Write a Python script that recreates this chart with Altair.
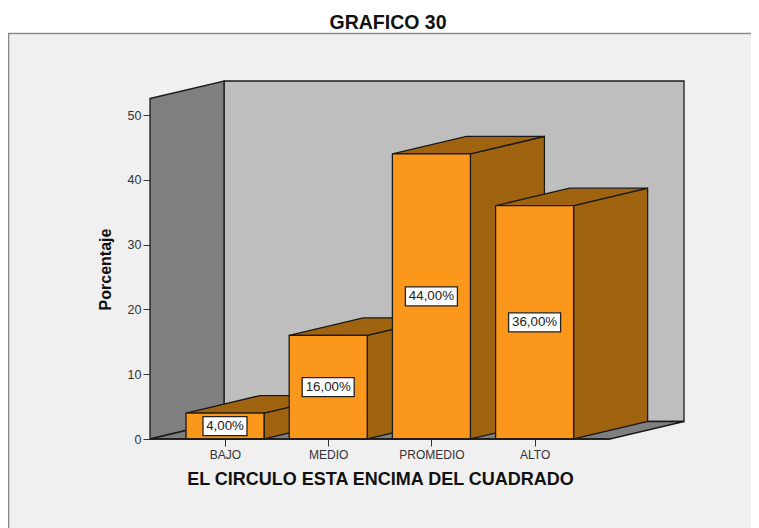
import altair as alt
import pandas as pd

categories = ["BAJO", "MEDIO", "PROMEDIO", "ALTO"]
percents = [4.0, 16.0, 44.0, 36.0]
labels = ["4,00%", "16,00%", "44,00%", "36,00%"]
label_halfwidths = [22, 26, 26, 26]
y_ticks = [0, 10, 20, 30, 40, 50]

ORANGE = "#FB981C"
BROWN = "#A06410"
WALL_BACK = "#BEBEBE"
WALL_SIDE = "#7F7F7F"
FRAME_FILL = "#F0F0F0"
EDGE = "#1A1A1A"

PX_STEP = 103.2
PX_PER_PCT = 6.48
BAR_HALF = 39 / PX_STEP
DX = 74 / PX_STEP
DY = 17.5 / PX_PER_PCT
X_MIN = -75 / PX_STEP
X_MAX = X_MIN + 534 / PX_STEP
Y_TOP = 358 / PX_PER_PCT
WALL_TOP = Y_TOP - DY
FLOOR_RIGHT = X_MAX - DX

x_scale = alt.Scale(domain=[X_MIN, X_MAX], nice=False, zero=False)
y_scale = alt.Scale(domain=[0, Y_TOP], nice=False, zero=False)
XB = alt.X("x:Q", scale=x_scale, title="EL CIRCULO ESTA ENCIMA DEL CUADRADO",
           axis=alt.Axis(values=list(range(len(categories))),
                         labelExpr="['BAJO','MEDIO','PROMEDIO','ALTO'][datum.value]",
                         grid=False, domain=False, tickColor="#333333", tickSize=7, tickWidth=1,
                         labelColor="#333333", labelFont="Liberation Sans", labelFontSize=12,
                         labelPadding=3, labelFlush=False, labelOverlap=False,
                         titleFont="Liberation Sans", titleFontSize=18,
                         titleFontWeight="bold", titleColor="#111111", titlePadding=10,
                         titleX=230, zindex=1))
YB = alt.Y("y:Q", scale=y_scale, title="Porcentaje",
           axis=alt.Axis(values=y_ticks, grid=False, domain=False, tickColor="#333333",
                         tickSize=7, tickWidth=1, labelColor="#333333",
                         labelFont="Liberation Sans", labelFontSize=12.5, labelPadding=2,
                         titleFont="Liberation Sans", titleFontSize=16, titleFontWeight="bold",
                         titleColor="#111111", titlePadding=14, titleY=188, zindex=1))


def rect(x0, x1, y0, y1, fill, stroke=None, sw=1.3):
    d = pd.DataFrame({"x": [x0], "x2": [x1], "y": [y0], "y2": [y1]})
    kw = dict(fill=fill, clip=False)
    if stroke:
        kw.update(stroke=stroke, strokeWidth=sw)
    return alt.Chart(d).mark_rect(**kw).encode(x=XB, x2="x2:Q", y=YB, y2="y2:Q")


def poly(points, fill):
    d = pd.DataFrame(points, columns=["x", "y", "y2"])
    return alt.Chart(d).mark_area(fill=fill, stroke=EDGE, strokeWidth=1.3, clip=False,
                                  interpolate="linear").encode(x=XB, y=YB, y2="y2:Q")


px = lambda p: X_MIN + (p - 150) / PX_STEP
py = lambda p: (439 - p) / PX_PER_PCT
layers = [rect(px(8.5), px(770), py(540), py(33.5), FRAME_FILL, "#8A8A8A", 1.6)]

# back wall, left wall, floor
layers.append(rect(X_MIN + DX, X_MAX, DY, Y_TOP, WALL_BACK, EDGE))
layers.append(poly([(X_MIN, WALL_TOP, 0), (X_MIN + DX, Y_TOP, DY)], WALL_SIDE))
layers.append(poly([(X_MIN, 0, 0), (X_MIN + DX, DY, 0), (FLOOR_RIGHT, DY, 0), (X_MAX, DY, DY)], WALL_SIDE))

# bars
for i, v in enumerate(percents):
    x0, x1 = i - BAR_HALF, i + BAR_HALF
    layers.append(poly([(x1, v, 0), (x1 + DX, v + DY, DY)], BROWN))
    layers.append(poly([(x0, v, v), (x0 + DX, v + DY, v), (x1, v + DY, v), (x1 + DX, v + DY, v + DY)], BROWN))
    layers.append(rect(x0, x1, 0, v, ORANGE, EDGE))

# baseline
layers.append(alt.Chart(pd.DataFrame({"x": [X_MIN], "x2": [FLOOR_RIGHT], "y": [0]})).mark_rule(
    color=EDGE, strokeWidth=1.3, clip=False).encode(x=XB, x2="x2:Q", y=YB))

# value boxes
for i, v in enumerate(percents):
    hw = label_halfwidths[i] / PX_STEP
    hh = 9.5 / PX_PER_PCT
    layers.append(rect(i - hw, i + hw, v / 2 - hh, v / 2 + hh, "white", "#222222", 1.3))
lab = pd.DataFrame({"x": list(range(4)), "y": [v / 2 for v in percents], "t": labels})
layers.append(alt.Chart(lab).mark_text(font="Liberation Sans", fontSize=13.3, color="#222222").encode(
    x=XB, y=YB, text="t:N"))

chart = alt.layer(*layers).properties(
    width=534, height=358,
    padding={"left": 142, "top": 73, "right": 67, "bottom": 89},
    autosize=alt.AutoSizeParams(type="none"),
    title=alt.TitleParams("GRAFICO 30", font="Liberation Sans", fontSize=19.5, fontWeight="bold",
                          color="#111111", anchor="middle", offset=-1, dx=-29),
).configure_view(stroke=None)

chart.save("out.html", embed_options={"renderer": "svg", "actions": False})
